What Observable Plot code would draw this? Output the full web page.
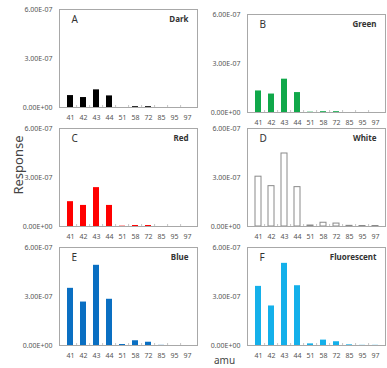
<!DOCTYPE html>
<html><head><meta charset="utf-8">
<script src="https://cdn.jsdelivr.net/npm/d3@7"></script>
<script src="https://cdn.jsdelivr.net/npm/@observablehq/plot@0.6"></script>
<style>
html,body{margin:0;padding:0;background:#fff;overflow:hidden;}
#root{position:relative;width:387px;height:368px;overflow:hidden;font-family:"Noto Sans",sans-serif;}
.panel{position:absolute;}
#ylab{position:absolute;left:-22px;top:157px;width:80px;text-align:center;font-size:13px;color:#444;transform:rotate(-90deg);transform-origin:center center;line-height:16px;}
#xlab{position:absolute;left:214px;top:354px;font-size:10px;line-height:12px;color:#444;}
</style></head><body><div id="root"><div id="ylab">Response</div><div id="xlab">amu</div></div>
<script>
const masses = ["41","42","43","44","51","58","72","85","95","97"];
const yTickValues = [0, 3e-7, 6e-7];
const yTickLabels = ["0.00E+00", "3.00E-07", "6.00E-07"];
const panelLetters = ["A","B","C","D","E","F"];
const panelNames = ["Dark","Green","Red","White","Blue","Fluorescent"];

const dark        = [0.73e-7, 0.61e-7, 1.08e-7, 0.71e-7, 0.00e-7, 0.05e-7, 0.05e-7, 0, 0, 0];
const green       = [1.32e-7, 1.13e-7, 2.04e-7, 1.22e-7, 0.02e-7, 0.05e-7, 0.05e-7, 0, 0, 0];
const red         = [1.52e-7, 1.29e-7, 2.38e-7, 1.29e-7, 0.02e-7, 0.06e-7, 0.06e-7, 0, 0, 0];
const white       = [3.05e-7, 2.47e-7, 4.47e-7, 2.41e-7, 0.06e-7, 0.23e-7, 0.18e-7, 0.04e-7, 0.03e-7, 0.03e-7];
const blue        = [3.50e-7, 2.66e-7, 4.91e-7, 2.83e-7, 0.06e-7, 0.29e-7, 0.20e-7, 0.01e-7, 0, 0];
const fluorescent = [3.62e-7, 2.42e-7, 5.03e-7, 3.66e-7, 0.10e-7, 0.33e-7, 0.23e-7, 0.04e-7, 0.01e-7, 0.01e-7];

const seriesList = [dark, green, red, white, blue, fluorescent];
const fills   = ["#000000", "#10a84a", "#ff0000", "#ffffff", "#0a6fc2", "#14b0ea"];
const strokes = ["none", "none", "none", "#8a8a8a", "none", "none"];
// frame top-left positions of each panel on the page
const positions = [[59, 9], [247, 14], [59, 128], [247, 128], [59, 247], [247, 247]];

const mL = 59, mT = 9, pw = 138, ph = 98, mR = 4, mB = 18;
const root = document.getElementById("root");

seriesList.forEach((vals, k) => {
  const data = masses.map((m, i) => ({mass: m, value: vals[i]}));
  const plot = Plot.plot({
    width: mL + pw + mR,
    height: mT + ph + mB,
    marginLeft: mL, marginTop: mT, marginRight: mR, marginBottom: mB,
    style: {background: "none", fontFamily: "'Noto Sans', sans-serif", fontSize: "7px", color: "#555", overflow: "visible"},
    x: {domain: masses, paddingInner: 0.57, paddingOuter: 0.285, tickSize: 0, tickPadding: 8, label: null},
    y: {domain: [0, 6e-7], ticks: yTickValues, tickFormat: d => yTickLabels[yTickValues.indexOf(d)], tickSize: 0, tickPadding: 7, label: null},
    marks: [
      Plot.ruleX(masses.slice(1), {x: d => d, dx: -pw / masses.length / 2, y1: 0, y2: 6e-7 * 2 / ph, stroke: "#b5b5b5", strokeWidth: 0.8}),
      Plot.barY(data, {x: "mass", y: "value", fill: fills[k], stroke: strokes[k], strokeWidth: 1}),
      Plot.frame({stroke: "#a8a8a8", strokeWidth: 1}),
      Plot.text([panelLetters[k]], {text: d => d, frameAnchor: "top-left", textAnchor: "start", lineAnchor: "top", dx: 12, dy: 6, fontSize: 10, fill: "#333"}),
      Plot.text([panelNames[k]], {text: d => d, frameAnchor: "top-right", textAnchor: "end", lineAnchor: "top", dx: -9, dy: 7, fontSize: 8, fontWeight: "bold", fill: "#333"})
    ]
  });
  plot.classList.add("panel");
  plot.style.left = (positions[k][0] - mL) + "px";
  plot.style.top = (positions[k][1] - mT) + "px";
  root.appendChild(plot);
});
</script>
</body></html>
